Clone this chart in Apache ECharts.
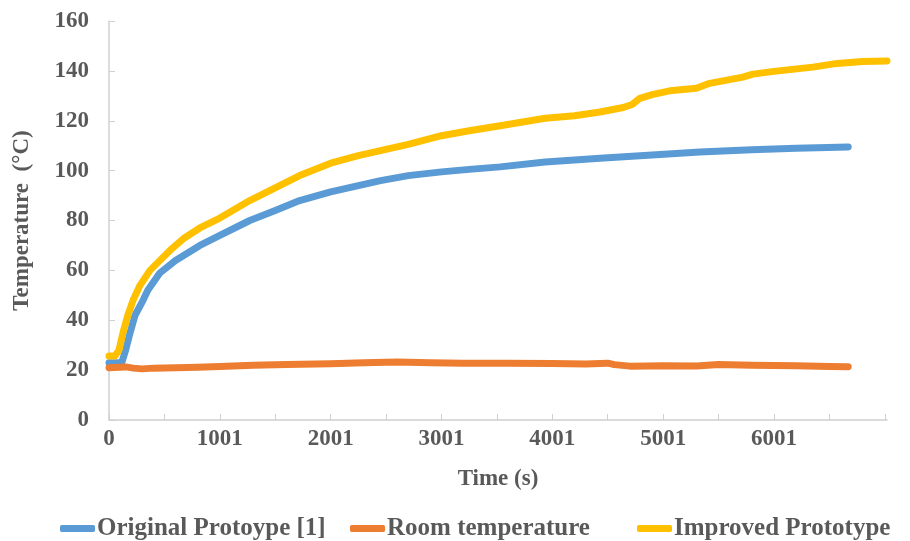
<!DOCTYPE html>
<html><head><meta charset="utf-8">
<script src="https://cdn.jsdelivr.net/npm/echarts@6/dist/echarts.min.js"></script>
<style>html,body{margin:0;padding:0;background:#fff}#c{width:910px;height:541px}</style>
</head><body><div id="c"></div>
<script>
var tBlue = [0,115,150,190,235,307,350,460,600,820,1000,1270,1500,1720,2000,2250,2450,2700,3000,3250,3530,3935,4430,4900,5330,5800,6200,6670];
var blueVals = [23,23,28,35,42,48,52,59,64,70,74,80,84,88,91.5,94,96,98,99.5,100.5,101.5,103.5,105,106.3,107.5,108.4,109,109.5];
var tYellow = [0,55,90,126,170,217,280,370,460,550,680,820,1000,1270,1540,1720,2000,2250,2450,2700,3000,3250,3530,3935,4200,4430,4640,4720,4790,4900,5060,5300,5360,5420,5600,5720,5810,6000,6350,6570,6800,7020];
var yellowVals = [25.7,25.7,28,35,42,48,54,60,64,68,73,77,81,88,94,98,103,106,108,110.5,114,116,118,121,122,123.5,125.3,126.5,129,130.5,132,133,134,135,136.5,137.5,138.7,139.8,141.5,143,143.8,144];
var tOrange = [0,150,220,300,400,600,800,1000,1300,1600,2000,2300,2600,2900,3200,3600,4000,4300,4500,4560,4700,5000,5300,5500,5800,6200,6500,6670];
var orangeVals = [21,21.3,20.8,20.5,20.8,21,21.2,21.5,22,22.3,22.6,23,23.3,23,22.8,22.8,22.7,22.5,22.8,22.2,21.6,21.8,21.7,22.3,22,21.8,21.5,21.4];
var seriesNames = ['Original Protoype [1]','Room temperature','Improved Prototype'];
var xLabels = ['0','1001','2001','3001','4001','5001','6001'];
var yTicks = [0,20,40,60,80,100,120,140,160];

function pairs(t, v){ return t.map(function(x,i){return [x, v[i]];}); }
var font = 'Liberation Serif';
var grey = '#595959';
var fs = 23;
var chart = echarts.init(document.getElementById('c'));
function mk(name, data, color){
  return {name:name, type:'line', data:data, showSymbol:false, symbol:'none',
    lineStyle:{width:7, color:color, cap:'round', join:'round'}, itemStyle:{color:color}, animation:false};
}
var legendLefts = [55, 345, 632];
var legends = seriesNames.map(function(n, i){
  return {left:legendLefts[i], top:511, itemWidth:35, itemHeight:7, icon:'roundRect',
    textStyle:{fontFamily:font, fontWeight:'bold', fontSize:25, color:grey, padding:[0,0,0,-3]},
    data:[n]};
});
chart.setOption({
  animation:false,
  grid:{left:109, right:23, top:21, bottom:121, outerBoundsMode:'none', containLabel:false},
  legend:legends,
  xAxis:{type:'value', min:0, max:7020, interval:500,
    name:'Time (s)', nameLocation:'middle', nameGap:48,
    nameTextStyle:{fontFamily:font, fontWeight:'bold', fontSize:fs, color:grey},
    axisLine:{lineStyle:{color:'#d0d0d0', width:1.5}},
    axisTick:{inside:true, length:6, lineStyle:{color:'#d0d0d0'}},
    splitLine:{show:false},
    axisLabel:{showMaxLabel:false, margin:8, fontFamily:font, fontWeight:'bold', fontSize:fs, color:grey,
      formatter:function(v){ if(v%1000!==0) return ''; var i=v/1000; return i<xLabels.length ? xLabels[i] : ''; }}
  },
  yAxis:{type:'value', min:yTicks[0], max:yTicks[yTicks.length-1], interval:20,
    name:'Temperature  (°C)', nameLocation:'middle', nameGap:75, nameRotate:90,
    nameTextStyle:{fontFamily:font, fontWeight:'bold', fontSize:fs, color:grey},
    axisLine:{show:true, lineStyle:{color:'#d0d0d0', width:1.5}},
    axisTick:{show:true, inside:true, length:6, lineStyle:{color:'#d0d0d0'}},
    splitLine:{show:false},
    axisLabel:{margin:20, fontFamily:font, fontWeight:'bold', fontSize:fs, color:grey}
  },
  series:[
    mk(seriesNames[0], pairs(tBlue, blueVals), '#5B9BD5'),
    mk(seriesNames[1], pairs(tOrange, orangeVals), '#ED7D31'),
    mk(seriesNames[2], pairs(tYellow, yellowVals), '#FFC000')
  ]
});
</script></body></html>
